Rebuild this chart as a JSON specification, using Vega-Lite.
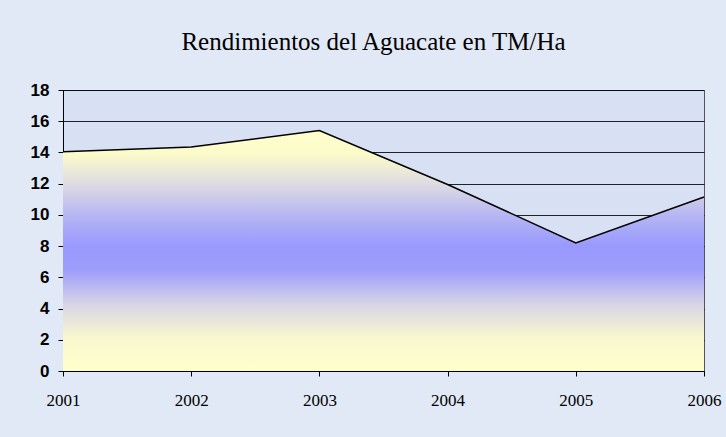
{
  "$schema": "https://vega.github.io/schema/vega-lite/v6.json",
  "autosize": {"type": "none"},
  "padding": {"left": 63, "top": 90, "right": 22, "bottom": 66},
  "width": 641,
  "height": 281,
  "background": "#e0e9f5",
  "title": {
    "text": "Rendimientos del Aguacate en TM/Ha",
    "font": "Liberation Serif",
    "fontSize": 25,
    "fontWeight": "normal",
    "color": "#000000",
    "anchor": "middle",
    "dx": -10,
    "offset": 26
  },
  "config": {
    "view": {"fill": "#d8e0f3", "stroke": "#555555", "strokeWidth": 1}
  },
  "data": {
    "values": [
      {"year": 2001, "value": 14.05},
      {"year": 2002, "value": 14.35},
      {"year": 2003, "value": 15.4},
      {"year": 2004, "value": 11.95},
      {"year": 2005, "value": 8.2},
      {"year": 2006, "value": 11.15}
    ]
  },
  "encoding": {
    "x": {
      "field": "year",
      "type": "quantitative",
      "scale": {"domain": [2001, 2006], "nice": false, "zero": false},
      "axis": {
        "title": null,
        "values": [2001, 2002, 2003, 2004, 2005, 2006],
        "format": "d",
        "grid": false,
        "domainColor": "#000000",
        "tickColor": "#000000",
        "tickSize": 5,
        "labelFont": "Liberation Serif",
        "labelFontSize": 17,
        "labelColor": "#000000",
        "labelPadding": 16,
        "labelFlush": false
      }
    },
    "y": {
      "field": "value",
      "type": "quantitative",
      "scale": {"domain": [0, 18], "nice": false},
      "axis": {
        "title": null,
        "values": [0, 2, 4, 6, 8, 10, 12, 14, 16, 18],
        "grid": true,
        "gridColor": "#000000",
        "gridOpacity": 0.85,
        "gridWidth": 1,
        "domainColor": "#000000",
        "tickColor": "#000000",
        "tickSize": 5,
        "labelFont": "Liberation Sans",
        "labelFontSize": 17,
        "labelFontWeight": "bold",
        "labelColor": "#000000",
        "labelPadding": 9
      }
    }
  },
  "layer": [
    {
      "mark": {
        "type": "area",
        "color": {
          "gradient": "linear",
          "x1": 0, "y1": 0, "x2": 0, "y2": 1,
          "stops": [
            {"offset": 0, "color": "#ffffcc"},
            {"offset": 0.1, "color": "#fbfaca"},
            {"offset": 0.22, "color": "#dfdce2"},
            {"offset": 0.36, "color": "#b4b4f4"},
            {"offset": 0.48, "color": "#9999ff"},
            {"offset": 0.58, "color": "#9d9dfb"},
            {"offset": 0.72, "color": "#d6d4e6"},
            {"offset": 0.86, "color": "#f8f7cf"},
            {"offset": 1, "color": "#ffffcc"}
          ]
        }
      }
    },
    {
      "mark": {"type": "line", "color": "#000000", "strokeWidth": 1.5}
    }
  ]
}
